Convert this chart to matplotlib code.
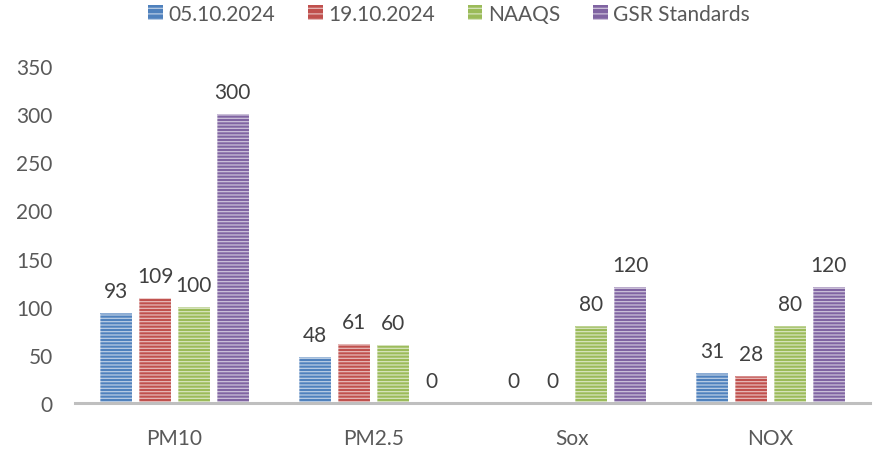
import matplotlib
matplotlib.use('Agg')
import matplotlib.pyplot as plt
import matplotlib.patches as mpatches
import numpy as np

plt.rcParams['font.family'] = ['Lato', 'DejaVu Sans']
plt.rcParams['hatch.linewidth'] = 0.9

# 空气质量监测数据
pollutants = ['PM10', 'PM2.5', 'Sox', 'NOX']
series_names = ['05.10.2024', '19.10.2024', 'NAAQS', 'GSR Standards']
val_0510 = [93, 48, 0, 31]
val_1910 = [109, 61, 0, 28]
val_naaqs = [100, 60, 80, 80]
val_gsr = [300, 0, 120, 120]
yticks = [0, 50, 100, 150, 200, 250, 300, 350]

colors = ['#4F81BD', '#C0504D', '#9BBB59', '#8064A2']
series = [val_0510, val_1910, val_naaqs, val_gsr]

fig = plt.figure(figsize=(8.77, 4.64), dpi=100)
ax = fig.add_axes([75 / 877, 60 / 464, 795 / 877, 337 / 464])

x = np.arange(len(pollutants))
width = 0.161
step = 0.195
stripes = '-----'
stripe_color = (1, 1, 1, 0.6)

for i, (vals, c) in enumerate(zip(series, colors)):
    pos = x + (i - 1.5) * step
    ax.bar(pos, vals, width, color=c, edgecolor='none', zorder=2)
    # 横向条纹效果
    ax.bar(pos, vals, width, facecolor='none', edgecolor=stripe_color,
           hatch=stripes, linewidth=0, zorder=3)
    # 浅色边框
    ax.bar(pos, vals, width, facecolor='none', edgecolor=(1, 1, 1, 0.35),
           linewidth=0.8, zorder=3)
    for p, v in zip(pos, vals):
        ax.annotate(str(v), (p, v), xytext=(0, 11.5), textcoords='offset points',
                    ha='center', va='baseline', fontsize=15, color='#404040')

ax.set_xlim(-0.5, 3.5)
ax.set_ylim(0, 350)
ax.set_yticks(yticks)
ax.set_xticks(x)
ax.set_xticklabels(pollutants)
ax.tick_params(axis='both', length=0, labelsize=15, labelcolor='#595959')
ax.tick_params(axis='y', pad=16)
ax.tick_params(axis='x', pad=18)

for s in ['top', 'right', 'left']:
    ax.spines[s].set_visible(False)
ax.spines['bottom'].set_color('#BFBFBF')
ax.spines['bottom'].set_linewidth(2.2)
ax.spines['bottom'].set_zorder(4)

handles = [mpatches.Patch(facecolor=c, edgecolor=stripe_color, hatch='---', linewidth=0)
           for c in colors]
fig.legend(handles, series_names, loc='center', bbox_to_anchor=(449 / 877, 1 - 15 / 464),
           ncol=4, frameon=False, fontsize=15, labelcolor='#595959',
           handlelength=0.7, handleheight=0.7, handletextpad=0.25, columnspacing=1.6)

fig.savefig('out.png', dpi=100)
